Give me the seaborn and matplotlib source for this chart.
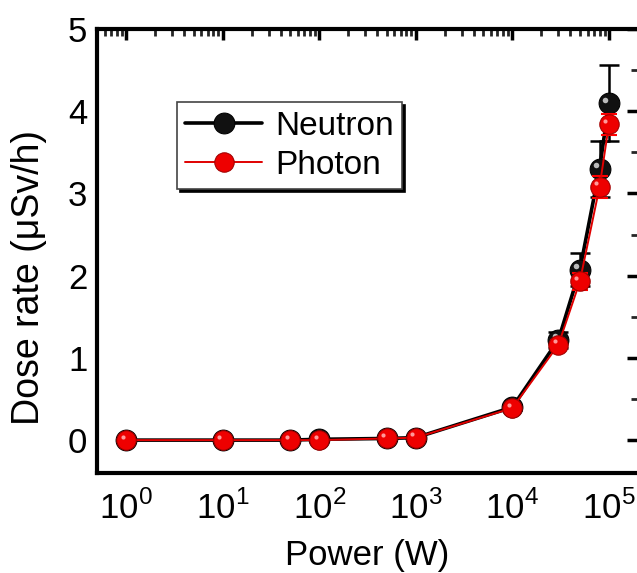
import numpy as np
import pandas as pd
import matplotlib
matplotlib.use("Agg")
import matplotlib.pyplot as plt
import matplotlib.transforms as mtransforms
from matplotlib.ticker import LogLocator, FixedLocator, NullFormatter
import seaborn as sns

power = [1, 10, 50, 100, 500, 1000, 10000, 30000, 50000, 80000, 100000]
neutron = [0.0, 0.0, 0.0, 0.01, 0.02, 0.03, 0.40, 1.22, 2.07, 3.30, 4.10]
neutron_err = [0.0, 0.0, 0.0, 0.0, 0.0, 0.0, 0.03, 0.10, 0.20, 0.34, 0.46]
photon = [0.0, 0.0, 0.0, 0.0, 0.02, 0.03, 0.39, 1.16, 1.93, 3.08, 3.84]
photon_err = [0.0, 0.0, 0.0, 0.0, 0.0, 0.0, 0.03, 0.06, 0.10, 0.13, 0.13]

sns.set_style("white")
plt.rcParams['font.family'] = ['Liberation Sans', 'DejaVu Sans']
plt.rcParams['mathtext.fontset'] = 'custom'
plt.rcParams['mathtext.rm'] = 'Liberation Sans'
plt.rcParams['text.color'] = 'black'
plt.rcParams['axes.labelcolor'] = 'black'

df = pd.DataFrame({"power": power + power,
                   "dose": neutron + photon,
                   "kind": ["Neutron"] * len(power) + ["Photon"] * len(power)})

fig = plt.figure(figsize=(6.37, 5.73), dpi=100)
ax = fig.add_axes([97/637, 100/573, 541/637, 444/573])

ax.errorbar(power, neutron, yerr=neutron_err, fmt='none', ecolor='black',
            elinewidth=1.8, capsize=7, capthick=1.8, zorder=2)
sns.lineplot(data=df[df.kind == "Neutron"], x="power", y="dose", ax=ax,
             color='black', lw=2.6, marker='o', markersize=15,
             markerfacecolor='#111111', markeredgecolor='black', zorder=3,
             label='Neutron')
ax.errorbar(power, photon, yerr=photon_err, fmt='none', ecolor='red',
            elinewidth=1.5, capsize=6, capthick=1.5, zorder=4)
sns.lineplot(data=df[df.kind == "Photon"], x="power", y="dose", ax=ax,
             color='#e00000', lw=1.4, marker='o', markersize=14,
             markerfacecolor='#ee0000', markeredgecolor='#a00000', zorder=5,
             label='Photon')

# highlights on spheres
off = mtransforms.offset_copy(ax.transData, fig=fig, x=-2.5, y=2.5, units='points')
ax.plot(power[-5:], neutron[-5:], 'o', ms=4, color='#bbbbbb', mec='none',
        transform=off, zorder=3.5)
ax.plot(power, photon, 'o', ms=3, color='#ff9999', mec='none',
        transform=off, zorder=5.5)

ax.set_xscale('log')
ax.set_xlim(0.5, 2.0e5)
ax.set_ylim(-0.4, 5)
ax.set_xticks([1, 10, 100, 1000, 10000, 100000])
ax.set_xticklabels([r'$10^{%d}$' % i for i in range(6)])
ax.xaxis.set_minor_locator(LogLocator(base=10, subs=np.arange(2, 10), numticks=20))
ax.xaxis.set_minor_formatter(NullFormatter())
ax.set_yticks([0, 1, 2, 3, 4, 5])
ax.yaxis.set_minor_locator(FixedLocator([0.5, 1.5, 2.5, 3.5, 4.5]))

ax.tick_params(which='major', direction='in', length=8, width=2.5,
               top=True, right=True, labelsize=25, pad=7, colors='black')
ax.tick_params(axis='x', which='major', pad=13)
ax.tick_params(which='minor', direction='in', length=5, width=2,
               top=True, right=True)
for s in ax.spines.values():
    s.set_linewidth(3)
    s.set_color('black')
    s.set_visible(True)

ax.set_xlabel('Power (W)', fontsize=25)
ax.xaxis.set_label_coords(0.5, -0.148)
ax.set_ylabel('Dose rate (μSv/h)', fontsize=27)
ax.yaxis.set_label_coords(-0.092, 0.44)

leg = ax.legend(loc='upper left', bbox_to_anchor=(0.148, 0.835), fontsize=24,
                frameon=True, fancybox=False, shadow={'color': 'black', 'alpha': 1},
                edgecolor='#444444', handlelength=2.3, borderpad=0.25,
                handletextpad=0.4, labelspacing=0.25, borderaxespad=0)
leg.get_frame().set_linewidth(1.2)

fig.savefig('out.png', dpi=100)
